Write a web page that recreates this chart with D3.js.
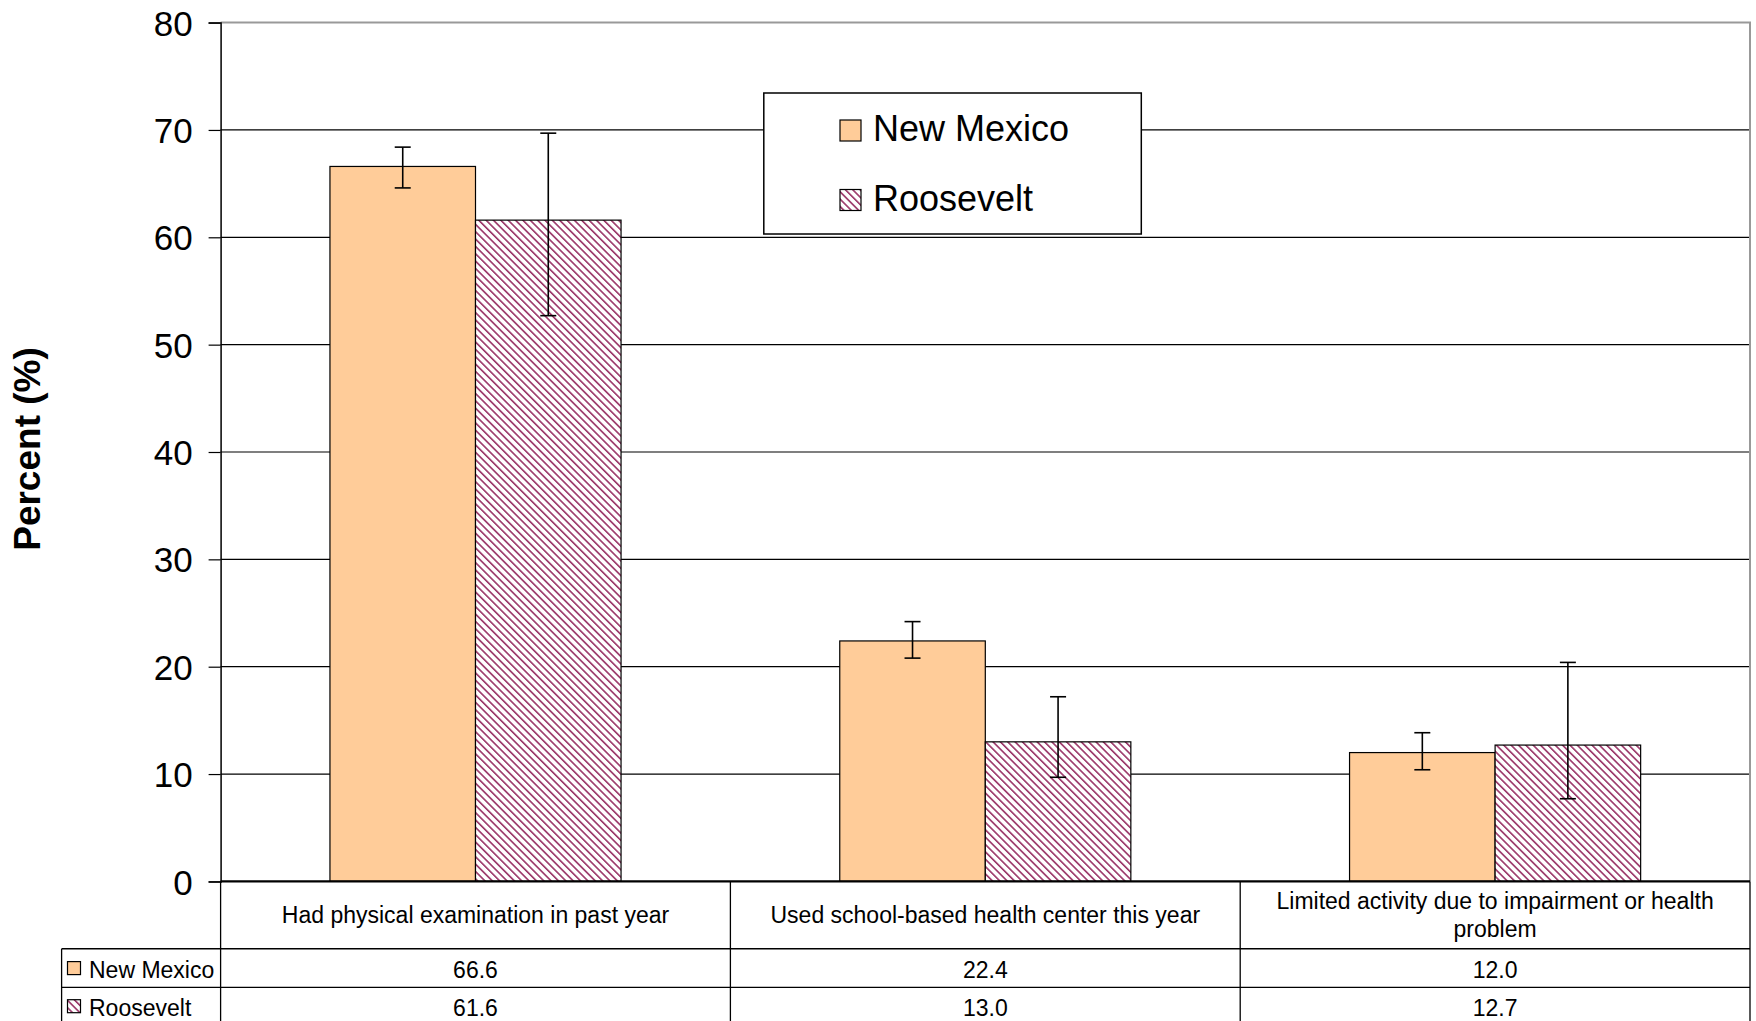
<!DOCTYPE html>
<html><head><meta charset="utf-8">
<script src="https://cdn.jsdelivr.net/npm/d3@7"></script>
<style>
html,body{margin:0;padding:0;background:#fff;}
svg{display:block;font-family:"Liberation Sans",Arial,sans-serif;}
</style></head>
<body>
<svg id="chart" width="1756" height="1021"></svg>
<script>
const categories = ["Had physical examination in past year","Used school-based health center this year","Limited activity due to impairment or health problem"];
const categoryLines = [["Had physical examination in past year"],["Used school-based health center this year"],["Limited activity due to impairment or health","problem"]];
const seriesNames = ["New Mexico","Roosevelt"];
const newMexico = [66.6, 22.4, 12.0];
const roosevelt = [61.6, 13.0, 12.7];
const newMexicoLow = [64.6, 20.8, 10.4];
const newMexicoHigh = [68.4, 24.2, 13.85];
const rooseveltLow = [52.7, 9.7, 7.7];
const rooseveltHigh = [69.7, 17.2, 20.4];
const yTicks = [0,10,20,30,40,50,60,70,80];
const tableLabels = ["66.6","22.4","12.0","61.6","13.0","12.7"];

const svg = d3.select("#chart");
const L = 220.6, R = 1750, T = 22.6, B = 881.4;
const y = d3.scaleLinear().domain([0,80]).range([B,T]);
const x0 = d3.scaleBand().domain(categories).range([L,R]).padding(0);
const bw = x0.bandwidth();
const x1 = d3.scaleBand().domain(seriesNames).range([bw*0.2145, bw*0.7855]).padding(0);

const defs = svg.append("defs");
const pat = defs.append("pattern").attr("id","hatch").attr("patternUnits","userSpaceOnUse")
  .attr("width",5.2).attr("height",5.2).attr("patternTransform","rotate(-45)");
pat.append("rect").attr("width",5.2).attr("height",5.2).attr("fill","#fff");
pat.append("rect").attr("x",0).attr("y",0).attr("width",1.6).attr("height",5.2).attr("fill","#993366");

const fills = ["#FFCC99","url(#hatch)"];

// gridlines
svg.append("g").selectAll("line").data(yTicks.filter(d=>d>0 && d<80)).join("line")
  .attr("x1",L).attr("x2",R).attr("y1",d=>y(d)).attr("y2",d=>y(d))
  .attr("stroke","#000").attr("stroke-width",1.2);
// plot frame top/right (gray)
svg.append("line").attr("x1",L).attr("x2",R+1).attr("y1",T).attr("y2",T).attr("stroke","#999").attr("stroke-width",2);
svg.append("line").attr("x1",R).attr("x2",R).attr("y1",T).attr("y2",B).attr("stroke","#999").attr("stroke-width",2);

// y axis
const yAxis = d3.axisLeft(y).tickValues(yTicks).tickSize(12).tickPadding(16);
const ga = svg.append("g").attr("transform",`translate(${L},0)`).call(yAxis);
ga.select(".domain").attr("stroke","#000").attr("stroke-width",1.5);
ga.selectAll(".tick line").attr("stroke","#000").attr("stroke-width",1.2);
ga.selectAll(".tick text").attr("font-size",35).attr("fill","#000").attr("font-family","Liberation Sans, Arial, sans-serif").attr("dy","0.36em");

svg.append("text").attr("transform",`translate(40,449) rotate(-90)`)
  .attr("text-anchor","middle").attr("font-size",37).attr("font-weight","bold").text("Percent (%)");

// bars
const data = [newMexico, roosevelt];
const lows = [newMexicoLow, rooseveltLow];
const highs = [newMexicoHigh, rooseveltHigh];
seriesNames.forEach((s,si)=>{
  const g = svg.append("g");
  g.selectAll("rect").data(categories).join("rect")
    .attr("x",(c)=>x0(c)+x1(s))
    .attr("y",(c,i)=>y(data[si][i]))
    .attr("width",x1.bandwidth())
    .attr("height",(c,i)=>y(0)-y(data[si][i]))
    .attr("fill",fills[si]).attr("stroke","#000").attr("stroke-width",1.2);
});
// error bars
seriesNames.forEach((s,si)=>{
  const g = svg.append("g").attr("stroke","#000").attr("stroke-width",1.6);
  categories.forEach((c,i)=>{
    const cx = x0(c)+x1(s)+x1.bandwidth()/2;
    g.append("line").attr("x1",cx).attr("x2",cx).attr("y1",y(lows[si][i])).attr("y2",y(highs[si][i]));
    g.append("line").attr("x1",cx-8).attr("x2",cx+8).attr("y1",y(lows[si][i])).attr("y2",y(lows[si][i]));
    g.append("line").attr("x1",cx-8).attr("x2",cx+8).attr("y1",y(highs[si][i])).attr("y2",y(highs[si][i]));
  });
});

// legend
const lg = svg.append("g");
lg.append("rect").attr("x",763.8).attr("y",93).attr("width",377.5).attr("height",141)
  .attr("fill","#fff").attr("stroke","#000").attr("stroke-width",1.5);
seriesNames.forEach((s,si)=>{
  const yy = [120,189.5][si];
  lg.append("rect").attr("x",840).attr("y",yy).attr("width",21).attr("height",21)
    .attr("fill",fills[si]).attr("stroke","#000").attr("stroke-width",1.2);
  lg.append("text").attr("x",873).attr("y",yy+21).attr("font-size",36).text(s);
});

// data table
const tb = svg.append("g");
const rowY = [B, 948.8, 987.4, 1025];
const tblLeft = 61.6;
const colEdges = [L].concat(categories.map(c=>x0(c)+bw));
tb.append("line").attr("x1",L).attr("x2",R).attr("y1",B).attr("y2",B).attr("stroke","#000").attr("stroke-width",2.2);
tb.append("line").attr("x1",tblLeft).attr("x2",R).attr("y1",rowY[1]).attr("y2",rowY[1]).attr("stroke","#000").attr("stroke-width",1.6);
tb.append("line").attr("x1",tblLeft).attr("x2",R).attr("y1",rowY[2]).attr("y2",rowY[2]).attr("stroke","#000").attr("stroke-width",1.2);
colEdges.forEach((xx)=>{
  tb.append("line").attr("x1",xx).attr("x2",xx).attr("y1",B).attr("y2",1021).attr("stroke","#000").attr("stroke-width",1.3);
});
tb.append("line").attr("x1",tblLeft).attr("x2",tblLeft).attr("y1",rowY[1]).attr("y2",1021).attr("stroke","#000").attr("stroke-width",1.3);
categories.forEach((c,i)=>{
  const lines = categoryLines[i];
  const cx = x0(c)+bw/2;
  const cy = (rowY[0]+rowY[1])/2;
  lines.forEach((ln,j)=>{
    tb.append("text").attr("x",cx).attr("y",cy + (j-(lines.length-1)/2)*28).attr("dy","0.35em")
      .attr("text-anchor","middle").attr("font-size",23).text(ln);
  });
});
seriesNames.forEach((s,si)=>{
  const cy = (rowY[si+1]+rowY[si+2])/2;
  tb.append("rect").attr("x",67.5).attr("y",cy-6.5).attr("width",13).attr("height",13)
    .attr("fill",fills[si]).attr("stroke","#000").attr("stroke-width",1.2);
  tb.append("text").attr("x",89).attr("y",cy).attr("dy","0.42em").attr("font-size",23).text(s);
  categories.forEach((c,i)=>{
    tb.append("text").attr("x",x0(c)+bw/2).attr("y",cy).attr("dy","0.42em")
      .attr("text-anchor","middle").attr("font-size",23).text(tableLabels[si*3+i]);
  });
});
</script>
</body></html>
